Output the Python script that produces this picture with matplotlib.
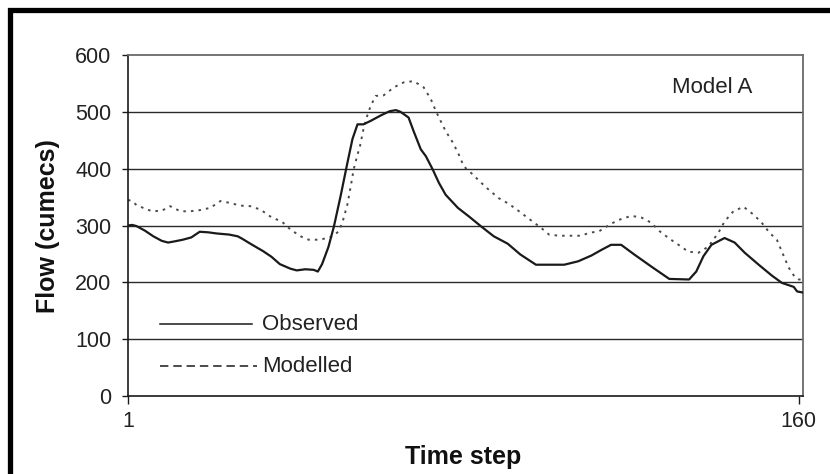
import matplotlib
matplotlib.use("Agg")
import matplotlib.pyplot as plt
from matplotlib.lines import Line2D
from matplotlib.patches import Rectangle

plt.rcParams['font.family'] = ['Liberation Sans', 'DejaVu Sans']

# Observed flow (time step, cumecs)
obs_t = [1, 2, 3, 5, 7, 9, 10.5, 12, 14, 16, 17, 18, 20, 22, 25, 27, 28, 30, 31.6,
         33, 35, 37, 39.5, 41, 43, 45, 46, 47, 48.5, 49.8, 51.4, 53, 54.2, 55.4,
         56.8, 58.5, 61, 63, 64.5, 65.6, 67.5, 68.7, 70.4, 71.6, 73.2, 74.7, 76.3,
         79.2, 81.8, 84.6, 87.7, 91, 94, 97.7, 104.4, 107.7, 110.8, 113.2, 115.5,
         117.9, 121, 125, 129.3, 134, 135.7, 137.4, 139.3, 142.4, 144.8, 147.2,
         150.5, 153.6, 156, 158.8, 159.6, 161]
obs_flow = [300, 301, 299, 291, 281, 273, 270, 272, 275, 279, 284, 289, 288, 286,
            284, 281, 277, 268, 261, 255, 245, 232, 224, 221, 223, 222, 219, 232,
            262, 298, 352, 410, 452, 478, 478, 484, 494, 501, 503, 500, 490, 466,
            434, 422, 399, 375, 354, 331, 316, 299, 281, 268, 249, 231, 231, 237,
            247, 257, 266, 266, 249, 228, 206, 205, 219, 246, 266, 278, 270, 252,
            231, 212, 199, 192, 184, 182]

# Modelled flow (time step, cumecs)
mod_t = [1, 2, 3, 4.6, 6.7, 9, 11, 13.4, 15.7, 18, 20.5, 22.9, 25, 27.6, 30, 32.4,
         34.7, 37.6, 39.5, 41.9, 43.8, 46.6, 49.5, 51, 52, 53, 53.8, 54.5, 55.3,
         56, 56.8, 57.7, 58.5, 59.7, 61.6, 64, 66.4, 68.7, 71.1, 72.8, 74, 75.1,
         76.3, 78, 79.4, 80.6, 82.7, 84.6, 86.5, 88.9, 91.3, 93.7, 96, 98.9,
         100.8, 103.2, 105.6, 108.4, 110.3, 112.7, 115.5, 117.4, 120.3, 122.7,
         125, 127, 129.3, 131.5, 133.8, 136.2, 138.6, 141, 142.4, 144.5, 146.9,
         149.3, 151.2, 153.1, 154.8, 156, 157.6, 159, 160, 161]
mod_flow = [345, 343, 336, 331, 325, 326, 334, 325, 325, 327, 331, 343, 340, 335,
            334, 328, 316, 306, 293, 281, 275, 275, 281, 290, 310, 337, 369, 399,
            422, 440, 469, 493, 510, 528, 529, 543, 552, 554, 543, 522, 501, 484,
            466, 446, 425, 404, 390, 376, 363, 348, 338, 325, 312, 296, 284, 282,
            282, 282, 287, 290, 303, 310, 317, 314, 305, 290, 277, 266, 254, 252,
            263, 288, 307, 325, 333, 319, 305, 287, 275, 254, 226, 210, 205, 205]

y_ticks = [0, 100, 200, 300, 400, 500, 600]
x_ticks = [1, 160]
x_tick_labels = ["1", "160"]

W, H = 830, 474
fig = plt.figure(figsize=(W / 100, H / 100), dpi=100)


def fx(px):
    return px / W


def fy(py):
    return 1 - py / H


ax = fig.add_axes([fx(128), fy(396), fx(803) - fx(128), fy(55) - fy(396)])

ink = '#1a1a1a'

# horizontal gridlines
for v in y_ticks[1:-1]:
    ax.axhline(v, color='#2a2a2a', lw=1.0, zorder=1)

ax.plot(mod_t, mod_flow, color='#4a4a4a', lw=1.4, dashes=(1.3, 2.6), zorder=2)
ax.plot(obs_t, obs_flow, color=ink, lw=1.6, zorder=3)

ax.set_xlim(1, 161)
ax.set_ylim(0, 600)
ax.set_yticks(y_ticks)
ax.set_xticks(x_ticks)
ax.set_xticklabels(x_tick_labels)

for side in ('left', 'bottom'):
    ax.spines[side].set_color(ink)
    ax.spines[side].set_linewidth(1.2)
for side in ('top', 'right'):
    ax.spines[side].set_color('#6a6a6a')
    ax.spines[side].set_linewidth(1.3)

ax.tick_params(axis='y', direction='out', length=4, width=1.0, color=ink,
               pad=8, labelsize=15.5, labelcolor='#222222')
ax.tick_params(axis='x', direction='out', length=6, width=1.0, color=ink,
               pad=5, labelsize=15.5, labelcolor='#222222')

ax.text(0.865, 0.905, "Model A", transform=ax.transAxes, fontsize=16,
        color='#222222', ha='center', va='center')

# legend drawn as short line samples with labels
fig.add_artist(Line2D([fx(160), fx(252)], [fy(324), fy(324)], color=ink, lw=1.1))
fig.add_artist(Line2D([fx(160), fx(257)], [fy(366), fy(366)], color=ink, lw=1.1,
                      dashes=(5.5, 3.2)))
fig.text(fx(262), fy(324), "Observed", fontsize=16, color='#222222',
         ha='left', va='center')
fig.text(fx(262), fy(366), "Modelled", fontsize=16, color='#222222',
         ha='left', va='center')

# axis titles
fig.text(fx(48), fy(226), "Flow (cumecs)", fontsize=18, fontweight='bold',
         rotation=90, ha='center', va='center', color='#111111')
fig.text(fx(463), fy(457), "Time step", fontsize=18, fontweight='bold',
         ha='center', va='center', color='#111111')

# outer frame
fig.add_artist(Rectangle((fx(9.5), -0.2), 1.5, fy(10) + 0.2, transform=fig.transFigure,
                         fill=False, edgecolor='black', lw=3.8))

fig.savefig("out.png", dpi=100)
